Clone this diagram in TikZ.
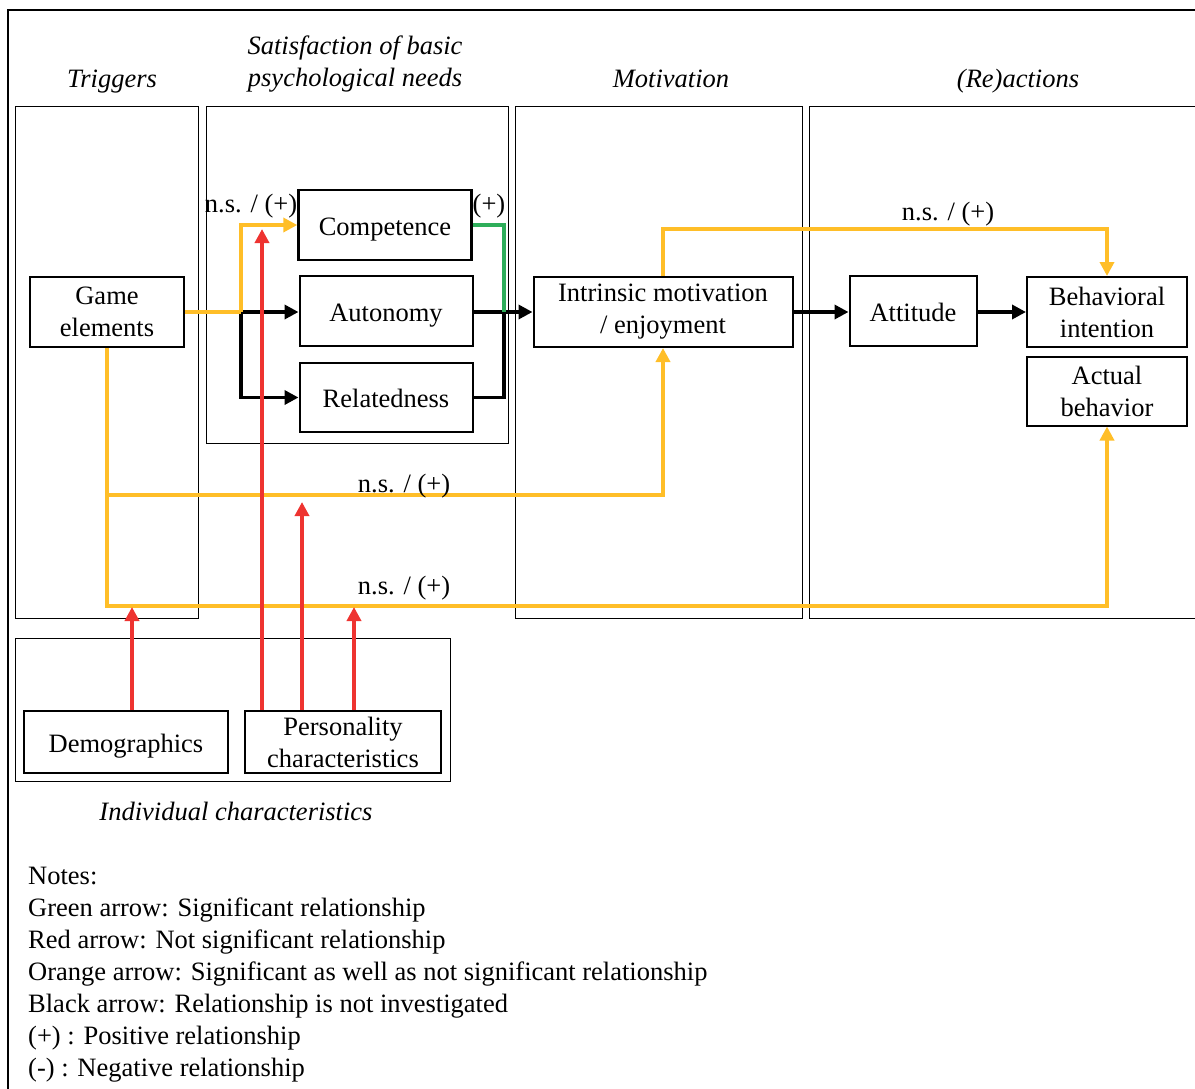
\documentclass[tikz,border=0pt]{standalone}
\usepackage{fontspec}
\setmainfont{Liberation Serif}
\usetikzlibrary{arrows.meta}
\definecolor{ocol}{HTML}{FFBE28}
\definecolor{rcol}{HTML}{EE3330}
\definecolor{gcol}{HTML}{2EAE5A}
\newcommand\bigtxt{\fontsize{26.5}{32}\selectfont}
\tikzset{
  box/.style={draw, line width=2pt, minimum height=70pt, align=center, inner sep=0pt, font=\bigtxt},
  oneline/.style={text height=26pt, text depth=6pt},
  grp/.style={draw, line width=1pt},
  hdr/.style={font=\bigtxt\itshape, align=center, inner sep=0pt},
  lbl/.style={font=\bigtxt, inner sep=0pt, anchor=base},
  note/.style={font=\bigtxt, inner sep=0pt, anchor=base west},
  tipa/.style={-{Triangle[length=14pt,width=14pt]}},
  blk/.style={line width=3.5pt, tipa},
  orn/.style={line width=4pt, color=ocol, tipa},
  red/.style={line width=4pt, color=rcol, tipa},
  grn/.style={line width=4pt, color=gcol},
}
\begin{document}
\begin{tikzpicture}[x=1pt, y=-1pt]
\useasboundingbox (0,0) rectangle (1195,1088);

% outer frame
\draw[line width=2.5pt] (8,1090) -- (8,10) -- (1197,10);

% stage boxes
\draw[grp] (15,106) rectangle (198,618);
\draw[grp] (206,106) rectangle (508,443);
\draw[grp] (515,106) rectangle (802,618);
\draw[grp] (1197,106) -- (809,106) -- (809,618) -- (1197,618);
\draw[grp] (15,638) rectangle (450,781);

% stage headings
\node[hdr, anchor=base] (hTrig) at (112,87) {Triggers};
\node[hdr] (hSat) at (355,64) {Satisfaction of basic\\psychological needs};
\node[hdr, anchor=base] (hMot) at (671,87) {Motivation};
\node[hdr, anchor=base] (hReact) at (1018,87) {(Re)actions};
\node[hdr, anchor=base] (hInd) at (236,820) {Individual characteristics};

% constructs
\node[box, minimum width=154pt] (ge) at (107,312) {Game\\elements};
\node[box, oneline, minimum width=173pt, line width=2.4pt] (comp) at (385,225) {Competence};
\node[box, oneline, minimum width=173pt] (auto) at (386,311) {Autonomy};
\node[box, oneline, minimum width=173pt, minimum height=69pt] (rel) at (386,397.5) {Relatedness};
\node[box, minimum width=259pt] (im) at (663,312) {Intrinsic motivation\\/ enjoyment};
\node[box, oneline, minimum width=127pt] (att) at (913,311) {Attitude};
\node[box, minimum width=160pt] (bi) at (1107,312) {Behavioral\\intention};
\node[box, minimum width=160pt, minimum height=69pt] (ab) at (1107,391) {Actual\\behavior};
\node[box, oneline, minimum width=204pt, minimum height=62pt, line width=1.2pt] (dm) at (126,742) {Demographics};
\node[box, minimum width=196pt, minimum height=62pt, line width=2.6pt] (pc) at (343,742) {Personality\\characteristics};

% junction points
\coordinate (jg) at (241,312);
\coordinate (jc) at (504,312);
\coordinate (jt) at (1107,229);
\coordinate (j1) at (107,495);
\coordinate (j2) at (107,606);
\coordinate (r0) at (132,607);
\coordinate (r1) at (262,229);
\coordinate (r2) at (302,502);
\coordinate (r3) at (354,607);

% black paths (not investigated)
\draw[blk] (jg) -- (auto.west |- jg);
\draw[blk] (jg) |- (rel.west);
\draw[line width=3.5pt] (rel.east) -| (jc);
\draw[blk] (auto.east |- jc) -- (im.west);
\draw[blk] (im.east) -- (att.west |- im.east);
\draw[blk] (att.east |- bi.west) -- (bi.west);

% green path (significant)
\draw[grn] (comp.east) -| (jc);

% orange paths
\draw[line width=4pt, color=ocol] (ge.east) -- (jg);
\draw[orn] (jg) |- (comp.west);
\draw[orn] (im.north) |- (jt) -- (bi.north);
\draw[line width=4pt, color=ocol] (ge.south) -- (j1);
\draw[orn] (j1) -| (im.south);
\draw[orn] (j1) -- (j2) -| (ab.south);

% red paths (not significant)
\draw[red] (dm.north -| r0) -- (r0);
\draw[red] (pc.north -| r1) -- (r1);
\draw[red] (pc.north -| r2) -- (r2);
\draw[red] (pc.north -| r3) -- (r3);

% path labels
\node[lbl] (l1) at (251,212) {n.s. / (+)};
\node[lbl] (l2) at (489,212) {(+)};
\node[lbl] (l3) at (948,220) {n.s. / (+)};
\node[lbl] (l4) at (404,492) {n.s. / (+)};
\node[lbl] (l5) at (404,594) {n.s. / (+)};

% legend
\node[note] (n1) at (28,884) {Notes:};
\node[note] (n2) at (28,916) {Green arrow: Significant relationship};
\node[note] (n3) at (28,948) {Red arrow: Not significant relationship};
\node[note] (n4) at (28,980) {Orange arrow: Significant as well as not significant relationship};
\node[note] (n5) at (28,1012) {Black arrow: Relationship is not investigated};
\node[note] (n6) at (28,1044) {(+) : Positive relationship};
\node[note] (n7) at (28,1076) {(-) : Negative relationship};
\end{tikzpicture}
\end{document}
